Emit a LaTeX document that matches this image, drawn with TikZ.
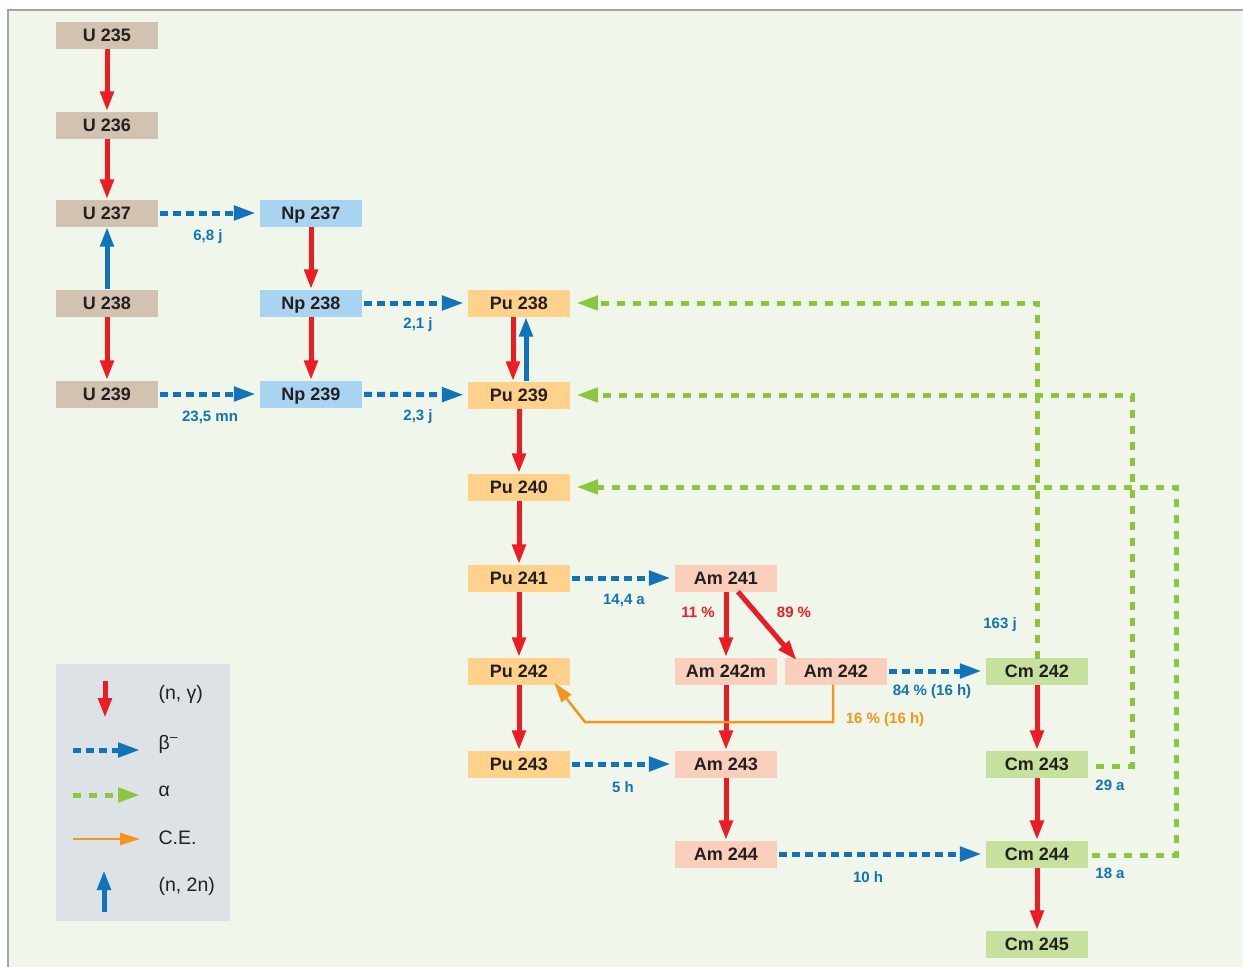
\documentclass[tikz,border=0pt]{standalone}
\usepackage{fontspec}
\setmainfont{Liberation Sans}
\usetikzlibrary{arrows.meta}

\definecolor{panelbg}{HTML}{F0F7EA}
\definecolor{framegray}{HTML}{A0A5A8}
\definecolor{legendbg}{HTML}{DCE2E6}
\definecolor{isotext}{HTML}{231F20}
\definecolor{utan}{HTML}{D1C3AF}
\definecolor{npblue}{HTML}{A8D3F1}
\definecolor{puorange}{HTML}{FFD18B}
\definecolor{ampink}{HTML}{F9CFBC}
\definecolor{cmgreen}{HTML}{C6E09E}
\definecolor{ngred}{HTML}{ED1C24}
\definecolor{betablue}{HTML}{1174BB}
\definecolor{alphagreen}{HTML}{8CC63F}
\definecolor{ceorange}{HTML}{F7941D}

\begin{document}
\begin{tikzpicture}[x=1pt, y=-1pt,
    iso/.style={minimum width=102pt, minimum height=27pt, inner sep=0pt,
        text height=13pt, text depth=0pt,
        text=isotext, font=\bfseries\fontsize{18}{18}\selectfont},
    uiso/.style={iso, fill=utan},
    npiso/.style={iso, fill=npblue},
    puiso/.style={iso, fill=puorange},
    amiso/.style={iso, fill=ampink},
    cmiso/.style={iso, fill=cmgreen},
    ngamma/.style={draw=ngred, line width=5pt, -{Triangle[length=20pt,width=13pt]}},
    ntwon/.style={draw=betablue, line width=5pt, -{Triangle[length=20pt,width=13pt]}},
    betadec/.style={draw=betablue, line width=5pt, dash pattern=on 8pt off 5pt,
        -{Triangle[length=22pt,width=14pt]}, shorten <=2pt, shorten >=4pt},
    alphadec/.style={draw=alphagreen, line width=5pt, dash pattern=on 8pt off 8pt,
        -{Triangle[length=22pt,width=14pt]}, shorten >=6pt},
    ecapt/.style={draw=ceorange, line width=2.5pt, -{Triangle[length=20pt,width=12pt]}},
    hl/.style={text=betablue, font=\bfseries\fontsize{15}{15}\selectfont},
    pct/.style={text=ngred, font=\bfseries\fontsize{15}{15}\selectfont},
    ecl/.style={text=ceorange, font=\bfseries\fontsize{15}{15}\selectfont},
    legtxt/.style={anchor=west, text=isotext, font=\fontsize{19.5}{19.5}\selectfont}]

    \useasboundingbox (0,0) rectangle (1243,967);

    % Panel
    \fill[white] (0,0) rectangle (1243,967);
    \fill[panelbg] (8,10) rectangle (1243,967);
    \draw[framegray, line width=1.5pt] (8,967) -- (8,10) -- (1243,10);

    % Uranium
    \node[uiso] (u235) at (107,35) {U 235};
    \node[uiso] (u236) at (107,125) {U 236};
    \node[uiso] (u237) at (107,213) {U 237};
    \node[uiso] (u238) at (107,303) {U 238};
    \node[uiso] (u239) at (107,394) {U 239};

    % Neptunium
    \node[npiso] (np237) at (311,213) {Np 237};
    \node[npiso] (np238) at (311,303) {Np 238};
    \node[npiso] (np239) at (311,394) {Np 239};

    % Plutonium
    \node[puiso] (pu238) at (519,303) {Pu 238};
    \node[puiso] (pu239) at (519,395) {Pu 239};
    \node[puiso] (pu240) at (519,487) {Pu 240};
    \node[puiso] (pu241) at (519,578) {Pu 241};
    \node[puiso] (pu242) at (519,671) {Pu 242};
    \node[puiso] (pu243) at (519,764) {Pu 243};

    % Americium
    \node[amiso] (am241) at (726,578) {Am 241};
    \node[amiso] (am242m) at (726,671) {Am 242m};
    \node[amiso] (am242) at (836,671) {Am 242};
    \node[amiso] (am243) at (726,764) {Am 243};
    \node[amiso] (am244) at (726,854) {Am 244};

    % Curium
    \node[cmiso] (cm242) at (1037,671) {Cm 242};
    \node[cmiso] (cm243) at (1037,764) {Cm 243};
    \node[cmiso] (cm244) at (1037,854) {Cm 244};
    \node[cmiso] (cm245) at (1037,944) {Cm 245};

    % (n, gamma) captures
    \draw[ngamma] (u235) -- (u236);
    \draw[ngamma] (u236) -- (u237);
    \draw[ngamma] (u238) -- (u239);
    \draw[ngamma] (np237) -- (np238);
    \draw[ngamma] (np238) -- (np239);
    \draw[ngamma] ([xshift=-6]pu238.south) -- ([xshift=-6]pu239.north);
    \draw[ngamma] (pu239) -- (pu240);
    \draw[ngamma] (pu240) -- (pu241);
    \draw[ngamma] (pu241) -- (pu242);
    \draw[ngamma] (pu242) -- (pu243);
    \draw[ngamma] (am241) -- (am242m);
    \draw[ngamma] ([xshift=12]am241.south) -- ([xshift=12,yshift=-3]am242.north west);
    \draw[ngamma] (am242m) -- (am243);
    \draw[ngamma] (am243) -- (am244);
    \draw[ngamma] (cm242) -- (cm243);
    \draw[ngamma] (cm243) -- (cm244);
    \draw[ngamma] (cm244) -- (cm245);

    % (n, 2n)
    \draw[ntwon] (u238) -- (u237);
    \draw[ntwon] ([xshift=7]pu239.north) -- ([xshift=7]pu238.south);

    % beta- decays
    \draw[betadec] (u237) -- (np237);
    \draw[betadec] (u239) -- (np239);
    \draw[betadec] (np238) -- (pu238);
    \draw[betadec] (np239) -- (pu239);
    \draw[betadec] (pu241) -- (am241);
    \draw[betadec] (pu243) -- (am243);
    \draw[betadec] (am242) -- (cm242);
    \draw[betadec] (am244) -- (cm244);

    % alpha decays
    \coordinate (bend243) at (1132,395);
    \coordinate (bend244) at (1176,487);
    \draw[alphadec] ([yshift=-2]cm242.north) |- (pu238.east);
    \draw[alphadec] ([xshift=8,yshift=-2]cm243.east) -| (bend243) -- (pu239.east);
    \draw[alphadec] ([xshift=4,yshift=-1]cm244.east) -| (bend244) -- (pu240.east);

    % electron capture
    \coordinate (ecA) at (833,722);
    \coordinate (ecB) at (585,722);
    \draw[ecapt] (am242.south -| ecA) -- (ecA) -- (ecB) -- ([xshift=-16,yshift=2]pu242.south east);

    % Half-lives and branchings
    \node[hl] (t237) at (208,237) {6,8 j};
    \node[hl] (t239) at (210,417) {23,5 mn};
    \node[hl] (tnp238) at (418,325) {2,1 j};
    \node[hl] (tnp239) at (418,417) {2,3 j};
    \node[hl] (tpu241) at (624,600) {14,4 a};
    \node[pct] (b11) at (698,612) {11 \%};
    \node[pct] (b89) at (794,612) {89 \%};
    \node[hl] (tcm242) at (1000,625) {163 j};
    \node[hl] (tam242) at (932,692) {84 \% (16 h)};
    \node[ecl] (tec) at (885,720) {16 \% (16 h)};
    \node[hl] (tpu243) at (623,787) {5 h};
    \node[hl] (tam244) at (868,877) {10 h};
    \node[hl] (tcm243) at (1110,785) {29 a};
    \node[hl] (tcm244) at (1110,873) {18 a};

    % Legend
    \fill[legendbg] (56,664) rectangle (230,921);
    \coordinate (lgA) at (105,681);  \coordinate (lgB) at (105,718);
    \coordinate (lbA) at (73,750);   \coordinate (lbB) at (140,750);
    \coordinate (laA) at (73,795);   \coordinate (laB) at (140,795);
    \coordinate (leA) at (73,839);   \coordinate (leB) at (140,839);
    \coordinate (lnA) at (104,912);  \coordinate (lnB) at (104,870);
    \draw[ngamma] (lgA) -- (lgB);
    \draw[betadec, shorten <=0pt, shorten >=0pt] (lbA) -- (lbB);
    \draw[alphadec, shorten >=0pt] (laA) -- (laB);
    \draw[ecapt] (leA) -- (leB);
    \draw[ntwon] (lnA) -- (lnB);
    \node[legtxt] (lgtxt) at (155,694) {(n, γ)};
    \node[legtxt] (lbtxt) at (155,744) {β\textsuperscript{–}};
    \node[legtxt] (latxt) at (155,791) {α};
    \node[legtxt] (letxt) at (155,838) {C.E.};
    \node[legtxt] (lntxt) at (155,886) {(n, 2n)};
\end{tikzpicture}
\end{document}
